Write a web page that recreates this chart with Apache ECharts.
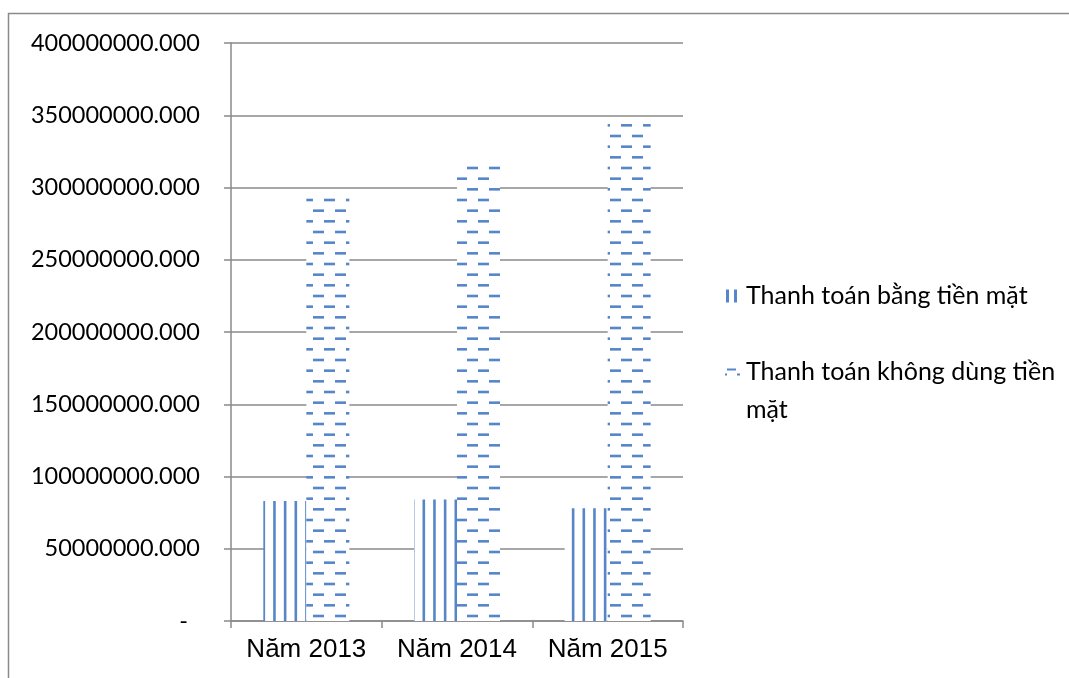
<!DOCTYPE html>
<html>
<head>
<meta charset="utf-8">
<script src="https://cdn.jsdelivr.net/npm/echarts@6/dist/echarts.min.js"></script>
<style>
  html, body { margin: 0; padding: 0; background: #ffffff; }
  #chart { width: 1069px; height: 678px; }
</style>
</head>
<body>
<div id="chart"></div>
<script>
// Categories and values (VND)
const categories = ['Năm 2013', 'Năm 2014', 'Năm 2015'];
const seriesNames = ['Thanh toán bằng tiền mặt', 'Thanh toán không dùng tiền mặt'];
const cashValues = [83000000, 84000000, 78000000];
const nonCashValues = [293000000, 315000000, 344000000];
const yAxisMax = 400000000;
const yAxisStep = 50000000;

const BLUE = '#5686c8';
const STEP = 32 / 3; // pattern pitch in px

// Fill pattern: thin vertical stripes
function makeStripePattern() {
  const c = document.createElement('canvas');
  c.width = 32; c.height = 8;
  const ctx = c.getContext('2d');
  ctx.fillStyle = '#ffffff';
  ctx.fillRect(0, 0, c.width, c.height);
  ctx.fillStyle = BLUE;
  for (let k = 0; k < 3; k++) {
    ctx.fillRect(6.5 + k * STEP, 0, 2.6, c.height);
  }
  return c;
}

// Fill pattern: staggered horizontal dashes
function makeDashPattern() {
  const c = document.createElement('canvas');
  c.width = 22; c.height = 64;
  const ctx = c.getContext('2d');
  ctx.fillStyle = '#ffffff';
  ctx.fillRect(0, 0, c.width, c.height);
  ctx.fillStyle = BLUE;
  for (let k = 0; k < 6; k++) {
    const y = 8 + k * STEP - 1.3;
    const x = (k % 2 === 1) ? 5 : 16;
    // draw the dash, wrapping across the tile edge
    ctx.fillRect(x, y, 11, 2.6);
    if (x + 11 > 22) ctx.fillRect(x + 11 - 22 - 11, y, 11, 2.6);
  }
  return c;
}

const stripeFill = { image: makeStripePattern(), repeat: 'repeat' };
const dashFill = { image: makeDashPattern(), repeat: 'repeat' };

const chart = echarts.init(document.getElementById('chart'), null, { renderer: 'canvas' });

const GRAY = '#8a8a8a';
const legendText = {
  fontFamily: 'Lato',
  fontSize: 25,
  color: '#000000',
  lineHeight: 38
};

chart.setOption({
  animation: false,
  backgroundColor: '#ffffff',
  graphic: [{
    type: 'rect',
    silent: true,
    z: -10,
    shape: { x: 8.5, y: 13.5, width: 1200, height: 800 },
    style: { fill: 'none', stroke: GRAY, lineWidth: 1.5 }
  }],
  grid: { left: 231, top: 43, width: 452, height: 578 },
  legend: [{
    orient: 'vertical',
    left: 726,
    top: 277,
    padding: 0,
    itemWidth: 11,
    itemHeight: 13,
    selectedMode: false,
    textStyle: Object.assign({}, legendText, { padding: [0, 0, 0, 4] }),
    data: [{
      name: seriesNames[0],
      icon: 'path://M0,0h3v13h-3z M8,0h3v13h-3z',
      itemStyle: { color: BLUE }
    }]
  }, {
    orient: 'vertical',
    left: 725,
    top: 315,
    padding: 0,
    itemWidth: 15,
    itemHeight: 7,
    selectedMode: false,
    textStyle: Object.assign({}, legendText, { padding: [0, 0, 0, 1] }),
    // blank first line keeps the icon level with the first line of the name
    formatter: name => ' \n' + name.replace(/ (\S+)$/, '\n$1'),
    data: [{
      name: seriesNames[1],
      icon: 'path://M2,0h9v2h-9z M0,5h2v2h-2z M12,5h3v2h-3z',
      itemStyle: { color: BLUE }
    }]
  }],
  xAxis: {
    type: 'category',
    data: categories,
    axisLine: { show: true, lineStyle: { color: GRAY, width: 1.5 } },
    axisTick: { show: true, length: 7, alignWithLabel: false, lineStyle: { color: GRAY, width: 1.5 } },
    axisLabel: {
      interval: 0,
      margin: 16,
      fontFamily: 'Liberation Sans',
      fontSize: 26,
      color: '#000000'
    },
    splitLine: { show: false }
  },
  yAxis: {
    type: 'value',
    min: 0,
    max: yAxisMax,
    interval: yAxisStep,
    axisLine: { show: true, lineStyle: { color: GRAY, width: 1.5 } },
    axisTick: { show: true, length: 7, lineStyle: { color: GRAY, width: 1.5 } },
    axisLabel: {
      margin: 31,
      fontFamily: 'Lato',
      fontSize: 23.5,
      color: '#000000',
      formatter: v => v === 0 ? '-  ' : v.toFixed(3)
    },
    splitLine: { show: true, lineStyle: { color: GRAY, width: 1.5 } }
  },
  series: [{
    name: seriesNames[0],
    type: 'bar',
    data: cashValues,
    barWidth: 43,
    barGap: '0%',
    itemStyle: { color: stripeFill },
    emphasis: { disabled: true }
  }, {
    name: seriesNames[1],
    type: 'bar',
    data: nonCashValues,
    barWidth: 43,
    barGap: '0%',
    itemStyle: { color: dashFill },
    emphasis: { disabled: true }
  }]
});
</script>
</body>
</html>
